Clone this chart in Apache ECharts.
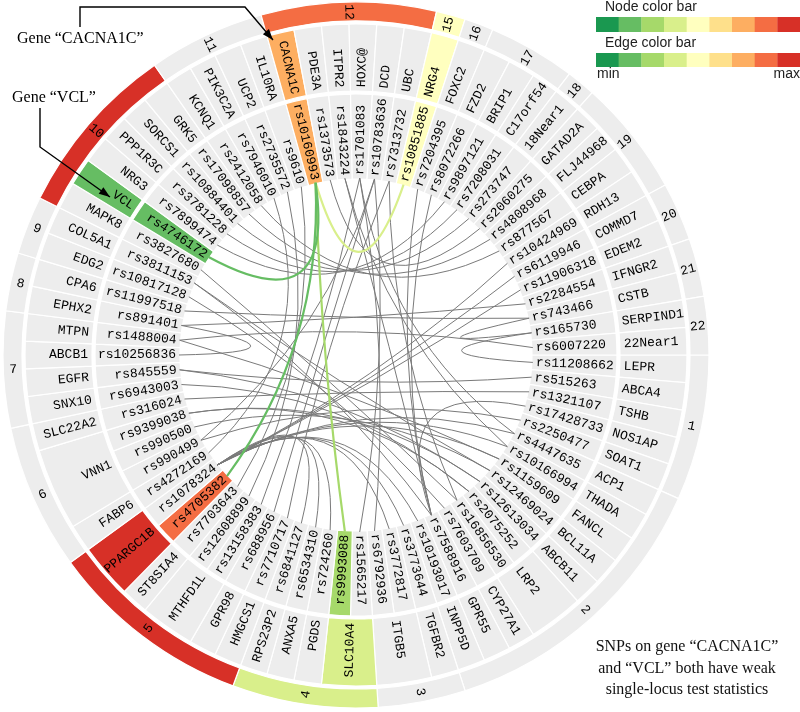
<!DOCTYPE html>
<html><head><meta charset="utf-8">
<script src="https://cdn.jsdelivr.net/npm/echarts@6/dist/echarts.min.js"></script>
<style>html,body{margin:0;padding:0;background:#fff}#c{width:800px;height:712px}</style>
</head><body><div id="c"></div>
<script>
// ---------------- data ----------------
const chromosomes = ['1','2','3','4','5','6','7','8','9','10','11','12','15','16','17','18','19','20','21','22'];
const chromSlots  = [5,10,3,5,7,5,4,2,2,6,4,6,1,1,3,1,4,2,2,2];
const hotChrom      = ['4','5','10','12','15'];
const hotChromLevel = [3,8,8,7,4];

const genes = ['LEPR','ABCA4','TSHB','NOS1AP','SOAT1','ACP1','THADA','FANCL','BCL11A','ABCB11','LRP2','CYP27A1','GPR55','INPP5D','TGFBR2','ITGB5','SLC10A4','PGDS','ANXA5','RPS23P2','HMGCS1','GPR98','MTHFD1L','ST8SIA4','PPARGC1B','FABP6','VNN1','SLC22A2','SNX10','EGFR','ABCB1','MTPN','EPHX2','CPA6','EDG2','COL5A1','MAPK8','VCL','NRG3','PPP1R3C','SORCS1','GRK5','KCNQ1','PIK3C2A','UCP2','IL10RA','CACNA1C','PDE3A','ITPR2','HOXC@','DCD','UBC','NRG4','FOXC2','FZD2','BRIP1','C17orf54','18Near1','GATAD2A','FLJ44968','CEBPA','RDH13','COMMD7','EDEM2','IFNGR2','CSTB','SERPIND1','22Near1'];
const geneSlots = [1,1,1,1,1,1,1,1,1,1,2,1,1,1,1,2,2,1,1,1,1,1,2,1,2,1,3,1,
                   1,1,1,1,1,1,1,1,1,1,1,1,1,1,1,1,1,1,1,1,1,1,1,1,1,1,1,1,1,1,1,1,1,1,1,1,1,1,1,1];
const hotGenes      = ['SLC10A4','PPARGC1B','VCL','CACNA1C','NRG4'];
const hotGeneLevel  = [3,8,1,6,4];

const snps = ['rs11208662','rs515263','rs1321107','rs17428733','rs2250477','rs4447635','rs10166994','rs1159609','rs12469024','rs12613034','rs2075252','rs16856530','rs7603709','rs7588916','rs10193017','rs3773644','rs3772817','rs6792936','rs1565217','rs9993088','rs724260','rs6534310','rs6841127','rs7710717','rs688956','rs13158383','rs12608899','rs7703643','rs4705382','rs1078324','rs4272169','rs990499','rs990500','rs9399038','rs316024','rs6943003','rs845559','rs10256836','rs1488004','rs891401','rs11997518','rs10817128','rs3811153','rs3827680','rs4746172','rs7899474','rs3781228','rs10884401','rs17098857','rs2412058','rs7946010','rs2735572','rs9610','rs10160993','rs1373573','rs1843224','rs1701083','rs10783636','rs7313732','rs10851885','rs7204395','rs8072266','rs9897121','rs7208031','rs273747','rs2060275','rs4808968','rs877567','rs10424969','rs6119946','rs11906318','rs2284554','rs743466','rs165730','rs6007220'];
const hotSnps      = ['rs9993088','rs4705382','rs4746172','rs10160993','rs10851885'];
const hotSnpLevel  = [2,7,1,6,4];

const grayLinks = [
 ['rs1078324','rs10424969'],['rs1078324','rs6119946'],['rs1078324','rs11906318'],
 ['rs1078324','rs4447635'],['rs1078324','rs10166994'],['rs1078324','rs1159609'],
 ['rs1078324','rs724260'],['rs1078324','rs6534310'],['rs1078324','rs6841127'],
 ['rs1078324','rs3773644'],['rs1078324','rs3772817'],['rs1078324','rs10193017'],
 ['rs7588916','rs17428733'],['rs7588916','rs7204395'],['rs7588916','rs8072266'],
 ['rs7588916','rs1843224'],['rs7588916','rs3811153'],
 ['rs743466','rs11997518'],['rs2284554','rs891401'],['rs743466','rs165730'],
 ['rs165730','rs11208662'],['rs891401','rs10256836'],['rs6007220','rs1488004'],
 ['rs515263','rs845559'],['rs1321107','rs316024'],['rs2250477','rs990499'],
 ['rs12469024','rs990500'],['rs12613034','rs9399038'],['rs2075252','rs6943003'],
 ['rs16856530','rs3827680'],['rs7603709','rs10817128'],['rs6792936','rs1701083'],
 ['rs1565217','rs10783636'],['rs7710717','rs7313732'],['rs688956','rs10783636'],
 ['rs13158383','rs1701083'],['rs12608899','rs2735572'],['rs7703643','rs9610'],
 ['rs4272169','rs7946010'],['rs7899474','rs9897121'],['rs3781228','rs7208031'],
 ['rs10884401','rs273747'],['rs17098857','rs4808968'],['rs2412058','rs877567'],
 ['rs1373573','rs2060275'],
 ['rs1701083','rs4447635'],['rs10783636','rs990499'],['rs1843224','rs10166994'],
 ['rs1488004','rs1159609'],['rs3811153','rs12469024'],['rs845559','rs12613034'],
 ['rs7313732','rs16856530'],['rs9399038','rs2075252']
];
const colorLinks = [
 ['rs10160993','rs10851885'],['rs10160993','rs9993088'],
 ['rs10160993','rs4705382'],['rs10160993','rs4746172']
];
const colorLinkLevel = [3,2,1,1];

const barColors = ['#1a9850','#66bd63','#a6d96a','#d9ef8b','#ffffbf','#fee08b','#fdae61','#f46d43','#d73027'];

// ---------------- geometry / style ----------------
const CX = 356, CY = 355, RMAX = 353;
const RING = {snpIn:176, snpOut:261, geneIn:264, geneOut:331, chrIn:334, chrOut:353,
              snpText:180, geneText:268, chrText:343, link:177, ctrl:35};
const GRAY = '#ededed';
const MONO = '"Liberation Mono","Courier New",monospace';

function spans(counts){ let s=0; return counts.map(c=>{const r=[s,s+c]; s+=c; return r;}); }
const snpSpans   = snps.map((_,i)=>[i,i+1]);
const geneSpans  = spans(geneSlots);
const chromSpans = spans(chromSlots);

function levelColor(list, levels, name){
  const k = list.indexOf(name);
  return k < 0 ? GRAY : barColors[levels[k]];
}

function ringSeries(spansArr, names, colors, rIn, rOut, rText, mode, z){
  return {
    type:'custom', coordinateSystem:'polar', z, silent:true,
    data: spansArr,
    renderItem(params, api){
      const i = params.dataIndex;
      const a0 = api.value(0), a1 = api.value(1);
      const c = api.coord([0,0]);
      const rad = r => { const p = api.coord([r,0]); return Math.hypot(p[0]-c[0], p[1]-c[1]); };
      const ang = a => { const p = api.coord([rOut,a]); return Math.atan2(p[1]-c[1], p[0]-c[0]); };
      let s = ang(a0), e = ang(a1);
      if (e <= s) e += Math.PI*2;
      const mid = (a0+a1)/2;
      const p = api.coord([rText, mid]);
      let th = Math.atan2(p[1]-c[1], p[0]-c[0]);
      let deg = th*180/Math.PI; if (deg < 0) deg += 360;
      const right = (deg < 90 || deg >= 270);
      const rot = right ? -th : Math.PI - th;
      const align = mode === 'center' ? 'center' : (right ? 'left' : 'right');
      return {
        type:'group',
        children:[
          {type:'sector', shape:{cx:c[0], cy:c[1], r0:rad(rIn), r:rad(rOut), startAngle:s, endAngle:e, clockwise:true},
           style:{fill:colors[i], stroke:'#fff', lineWidth:1.2}},
          {type:'text', x:p[0], y:p[1], rotation:rot,
           style:{text:names[i], fill:'#000', font:'13px '+MONO, align:align, textAlign:align,
                  verticalAlign:'middle', textVerticalAlign:'middle'}}
        ]
      };
    }
  };
}

const linkData = grayLinks.map(p=>[snps.indexOf(p[0]), snps.indexOf(p[1]), -1])
  .concat(colorLinks.map((p,k)=>[snps.indexOf(p[0]), snps.indexOf(p[1]), colorLinkLevel[k]]));

const linkSeries = {
  type:'custom', coordinateSystem:'polar', z:5, silent:true,
  data: linkData,
  renderItem(params, api){
    const a = api.value(0)+0.5, b = api.value(1)+0.5, lv = api.value(2);
    const n = snps.length;
    let d = b - a; if (d > n/2) d -= n; if (d < -n/2) d += n;
    const m = a + d/2;
    const p0 = api.coord([RING.link, a]), p2 = api.coord([RING.link, b]);
    const cp = api.coord([RING.ctrl, m]);
    const colored = lv >= 0;
    return {type:'bezierCurve',
      shape:{x1:p0[0], y1:p0[1], x2:p2[0], y2:p2[1], cpx1:cp[0], cpy1:cp[1]},
      style:{stroke: colored ? barColors[lv] : '#7a7a7a', lineWidth: colored ? 2.2 : 1, fill:null}};
  }
};

// ---------------- annotations ----------------
const graphics = [];
function arrow(points, tip, from){
  graphics.push({type:'polyline', shape:{points}, style:{stroke:'#000', lineWidth:1.4, fill:null}, z:20});
  const dx = tip[0]-from[0], dy = tip[1]-from[1], L = Math.hypot(dx,dy), ux = dx/L, uy = dy/L;
  const bx = tip[0]-ux*11, by = tip[1]-uy*11;
  graphics.push({type:'polygon', shape:{points:[tip,[bx-uy*4,by+ux*4],[bx+uy*4,by-ux*4]]}, style:{fill:'#000'}, z:20});
}
arrow([[80,27],[80,7],[245,7],[273,40]], [273,40], [245,7]);
arrow([[40,108],[40,147],[110,197]], [110,197], [40,147]);
graphics.push({type:'text', x:17, y:39, style:{text:'Gene \u201cCACNA1C\u201d', font:'16px "Liberation Serif"', fill:'#000', textVerticalAlign:'middle', verticalAlign:'middle'}, z:20});
graphics.push({type:'text', x:12, y:98, style:{text:'Gene \u201cVCL\u201d', font:'16px "Liberation Serif"', fill:'#000', textVerticalAlign:'middle', verticalAlign:'middle'}, z:20});

const bottomText = ['SNPs on gene \u201cCACNA1C\u201d','and \u201cVCL\u201d both have weak','single-locus test statistics'];
bottomText.forEach((t,k)=>graphics.push({type:'text', x:687, y:647+k*21.5,
  style:{text:t, font:'16px "Liberation Serif"', fill:'#111', align:'center', textAlign:'center', verticalAlign:'middle', textVerticalAlign:'middle'}, z:20}));

// colour bars
const BX = 596, BW = 22.67;
[[17,15],[53,14]].forEach(([y,h])=>{
  barColors.forEach((col,k)=>graphics.push({type:'rect', shape:{x:BX+k*BW, y, width:BW+0.3, height:h}, style:{fill:col}, z:20}));
});
const sans = '14px "Liberation Sans", Arial';
graphics.push({type:'text', x:605, y:7, style:{text:'Node color bar', font:sans, fill:'#222', verticalAlign:'middle', textVerticalAlign:'middle'}, z:20});
graphics.push({type:'text', x:605, y:43, style:{text:'Edge color bar', font:sans, fill:'#222', verticalAlign:'middle', textVerticalAlign:'middle'}, z:20});
graphics.push({type:'text', x:597, y:74, style:{text:'min', font:sans, fill:'#222', verticalAlign:'middle', textVerticalAlign:'middle'}, z:20});
graphics.push({type:'text', x:800, y:74, style:{text:'max', font:sans, fill:'#222', align:'right', textAlign:'right', verticalAlign:'middle', textVerticalAlign:'middle'}, z:20});

// ---------------- chart ----------------
const chart = echarts.init(document.getElementById('c'), null, {renderer:'canvas'});
chart.setOption({
  animation:false,
  backgroundColor:'#fff',
  polar:{center:[CX,CY], radius:RMAX},
  angleAxis:{type:'value', min:0, max:snps.length, startAngle:0, clockwise:true, show:false},
  radiusAxis:{type:'value', min:0, max:RMAX, show:false},
  series:[
    ringSeries(snpSpans, snps, snps.map(n=>levelColor(hotSnps,hotSnpLevel,n)), RING.snpIn, RING.snpOut, RING.snpText, 'edge', 1),
    ringSeries(geneSpans, genes, genes.map(n=>levelColor(hotGenes,hotGeneLevel,n)), RING.geneIn, RING.geneOut, RING.geneText, 'edge', 1),
    ringSeries(chromSpans, chromosomes, chromosomes.map(n=>levelColor(hotChrom,hotChromLevel,n)), RING.chrIn, RING.chrOut, RING.chrText, 'center', 1),
    linkSeries
  ],
  graphic: graphics
});
</script></body></html>
